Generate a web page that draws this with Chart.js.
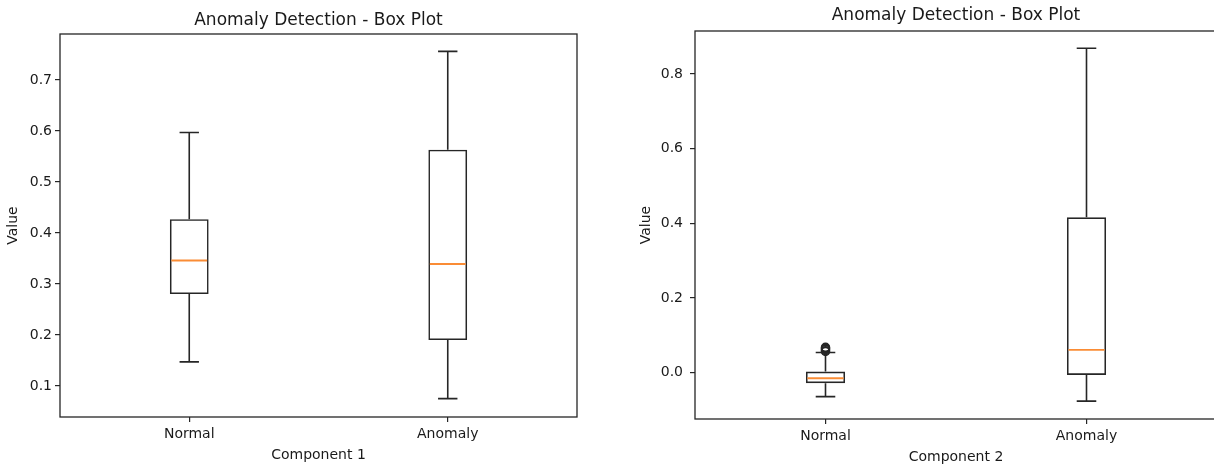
<!DOCTYPE html>
<html>
<head>
<meta charset="utf-8">
<script src="https://cdn.jsdelivr.net/npm/chart.js@4"></script>
<style>
  html, body { margin: 0; padding: 0; background: #fff; overflow: hidden; }
  body { width: 1214px; height: 467px; position: relative; }
  canvas { position: absolute; top: 0; }
  #comp1 { left: 0; }
  #comp2 { left: 607px; }
</style>
</head>
<body>
<canvas id="comp1" width="607" height="467"></canvas>
<canvas id="comp2" width="620" height="467"></canvas>
<script>
const groups = ['Normal', 'Anomaly'];

// Component 1 box statistics
const c1Min = [0.147, 0.075];
const c1Q1 = [0.280, 0.190];
const c1Median = [0.346, 0.339];
const c1Q3 = [0.427, 0.563];
const c1Max = [0.597, 0.756];
const c1Outliers = [[], []];

// Component 2 box statistics
const c2Min = [-0.064, -0.076];
const c2Q1 = [-0.028, -0.006];
const c2Median = [-0.015, 0.061];
const c2Q3 = [0.003, 0.416];
const c2Max = [0.054, 0.869];
const c2Outliers = [[0.057, 0.059, 0.062, 0.064, 0.066, 0.068], []];

const INK = '#262626';
const MEDIAN = '#fa8c35';
const FONT = 'DejaVu Sans';

// whiskers, caps and median lines on top of the floating bars, plus the axes frame
const boxWhiskers = {
  id: 'boxWhiskers',
  afterDatasetsDraw(chart, args, opts) {
    const { ctx, scales: { x, y } } = chart;
    const bars = chart.getDatasetMeta(0).data;
    ctx.save();
    opts.min.forEach((lo, i) => {
      const cx = x.getPixelForValue(i);
      const half = bars[i].width / 2;
      const cap = half / 2;
      const yLo = y.getPixelForValue(lo);
      const yHi = y.getPixelForValue(opts.max[i]);
      const yQ1 = y.getPixelForValue(opts.q1[i]);
      const yQ3 = y.getPixelForValue(opts.q3[i]);
      ctx.strokeStyle = INK;
      ctx.lineWidth = 1.6;
      ctx.beginPath();
      ctx.moveTo(cx, yQ1); ctx.lineTo(cx, yLo);
      ctx.moveTo(cx, yQ3); ctx.lineTo(cx, yHi);
      ctx.moveTo(cx - cap, yLo); ctx.lineTo(cx + cap, yLo);
      ctx.moveTo(cx - cap, yHi); ctx.lineTo(cx + cap, yHi);
      ctx.stroke();
      const yMed = y.getPixelForValue(opts.median[i]);
      ctx.strokeStyle = MEDIAN;
      ctx.lineWidth = 1.9;
      ctx.beginPath();
      ctx.moveTo(cx - half + 1.5, yMed); ctx.lineTo(cx + half - 1.5, yMed);
      ctx.stroke();
    });
    ctx.restore();
  },
  afterDraw(chart) {
    const { ctx, chartArea: a } = chart;
    ctx.save();
    ctx.strokeStyle = INK;
    ctx.lineWidth = 1.3;
    ctx.strokeRect(a.left, a.top, a.right - a.left, a.bottom - a.top);
    ctx.restore();
  }
};

function outlierPoints(outliers) {
  const pts = [];
  outliers.forEach((list, i) => list.forEach(v => pts.push({ x: groups[i], y: v })));
  return pts;
}

function makeChart(id, s) {
  new Chart(document.getElementById(id), {
    type: 'bar',
    data: {
      labels: groups,
      datasets: [
        {
          data: s.q1.map((v, i) => [v, s.q3[i]]),
          backgroundColor: 'rgba(0,0,0,0)',
          borderColor: INK,
          borderWidth: 1.6,
          borderSkipped: false,
          barPercentage: 0.15,
          categoryPercentage: 1
        },
        {
          type: 'scatter',
          data: outlierPoints(s.outliers),
          pointStyle: 'circle',
          pointRadius: 4,
          pointBorderWidth: 1.5,
          pointBorderColor: INK,
          pointBackgroundColor: 'rgba(0,0,0,0)'
        }
      ]
    },
    options: {
      responsive: false,
      animation: false,
      layout: { padding: { left: 0, right: s.padRight, top: 0, bottom: 0 } },
      plugins: {
        legend: { display: false },
        tooltip: { enabled: false },
        title: {
          display: true,
          text: 'Anomaly Detection - Box Plot',
          fullSize: false,
          color: '#1a1a1a',
          font: { family: FONT, size: 17, weight: 'normal' },
          padding: s.titlePad
        },
        boxWhiskers: { min: s.min, q1: s.q1, median: s.median, q3: s.q3, max: s.max }
      },
      scales: {
        x: {
          offset: true,
          afterFit: sc => { sc.height = s.xHeight; },
          grid: { offset: false, drawOnChartArea: false, drawTicks: true, tickLength: 5, color: INK, lineWidth: 1.2 },
          border: { display: false },
          ticks: { color: '#1a1a1a', padding: 4, font: { family: FONT, size: 14 } },
          title: { display: true, text: s.xTitle, color: '#1a1a1a', font: { family: FONT, size: 14 }, padding: { top: 0, bottom: s.xTitlePad } }
        },
        y: {
          min: s.yMin,
          max: s.yMax,
          afterFit: sc => { sc.width = s.yWidth; },
          grid: { drawOnChartArea: false, drawTicks: true, tickLength: 5, color: INK, lineWidth: 1.2 },
          border: { display: false },
          ticks: {
            stepSize: s.step,
            includeBounds: false,
            padding: s.yTickPad,
            color: '#1a1a1a',
            font: { family: FONT, size: 14 },
            callback: v => v.toFixed(1)
          },
          title: { display: true, text: 'Value', color: '#1a1a1a', font: { family: FONT, size: 14 }, padding: { top: s.yTitlePad, bottom: 0 } }
        }
      }
    },
    plugins: [boxWhiskers]
  });
}

makeChart('comp1', {
  min: c1Min, q1: c1Q1, median: c1Median, q3: c1Q3, max: c1Max, outliers: c1Outliers,
  yMin: 0.039, yMax: 0.790, step: 0.1,
  xTitle: 'Component 1',
  padRight: 30, yWidth: 60, xHeight: 50,
  titlePad: { top: 10, bottom: 3.6 },
  xTitlePad: 3.6, yTickPad: 3, yTitlePad: 5
});

makeChart('comp2', {
  min: c2Min, q1: c2Q1, median: c2Median, q3: c2Q3, max: c2Max, outliers: c2Outliers,
  yMin: -0.124, yMax: 0.915, step: 0.2,
  xTitle: 'Component 2',
  padRight: 10, yWidth: 88, xHeight: 48,
  titlePad: { top: 5, bottom: 5.6 },
  xTitlePad: 1.6, yTickPad: 7, yTitlePad: 31
});
</script>
</body>
</html>
